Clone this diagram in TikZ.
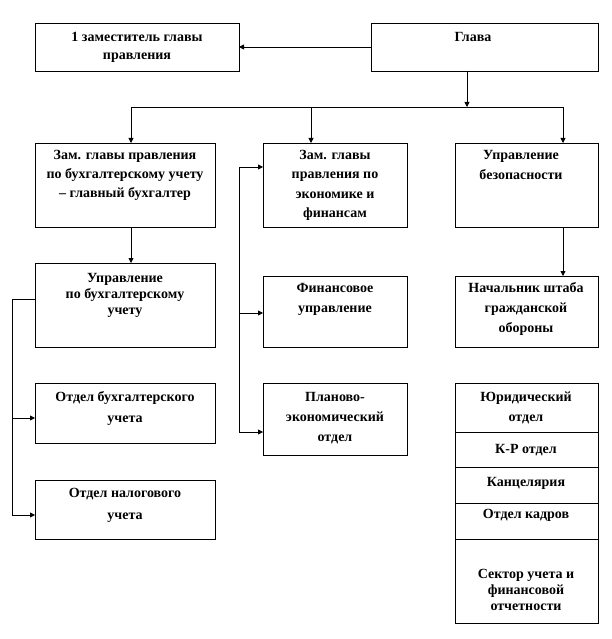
\documentclass[tikz,border=0pt]{standalone}
\usepackage{fontspec}
\setmainfont{Liberation Serif}
\usetikzlibrary{arrows.meta}
\tikzset{
  bx/.style={draw,line width=0.8pt,anchor=north west,inner sep=0pt,outer sep=0pt},
  lbl/.style={anchor=north,inner sep=0pt,align=center},
  ln/.style={line width=0.8pt},
  arr/.style={-{Triangle[length=5pt,width=5pt]}}
}
\newcommand\bx[5]{\node[bx,minimum width=#4pt,minimum height=#5pt] (#1) at (#2,#3) {};}
\newcommand\lb[5]{\node[lbl,font={\fontsize{14}{#4}\selectfont\bfseries}] (#1) at (#2,#3) {\rule{0pt}{13pt}#5};}
\begin{document}
\begin{tikzpicture}[x=1pt,y=-1pt]
\useasboundingbox (0,0) rectangle (612,639);
% boxes
\bx{zam1}{35}{23}{204}{48}
\bx{glava}{371}{23}{227}{48}
\bx{zamb}{35}{143}{180}{84}
\bx{zame}{263}{143}{144}{84}
\bx{uprb}{455}{143}{143}{84}
\bx{upbu}{35}{263}{180}{84}
\bx{fin}{263}{276}{144}{71}
\bx{nach}{455}{276}{143}{71}
\bx{otbu}{35}{383}{180}{60}
\bx{plan}{263}{383}{144}{72}
\bx{jur}{455}{383}{143}{49}
\bx{kr}{455}{432}{143}{35}
\bx{kanc}{455}{467}{143}{36}
\bx{kadr}{455}{503}{143}{36}
\bx{sekt}{455}{539}{143}{84}
\bx{otna}{35}{480}{180}{59}
% labels
\lb{t-zam1}{137}{28}{18}{1 заместитель главы\\правления}
\lb{t-glava}{473}{28}{18}{Глава}
\lb{t-zamb}{125}{146}{19}{Зам. главы правления\\по бухгалтерскому учету\\– главный бухгалтер}
\lb{t-zame}{335}{146}{19.5}{Зам. главы\\правления по\\экономике и\\финансам}
\lb{t-uprb}{521}{146}{20}{Управление\\безопасности}
\lb{t-upbu}{125}{269}{16}{Управление\\по бухгалтерскому\\учету}
\lb{t-fin}{335}{279}{20}{Финансовое\\управление}
\lb{t-nach}{526}{279}{20}{Начальник штаба\\гражданской\\обороны}
\lb{t-otbu}{125}{388}{21}{Отдел бухгалтерского\\учета}
\lb{t-plan}{335}{388}{20}{Планово-\\экономический\\отдел}
\lb{t-jur}{526}{388}{20}{Юридический\\отдел}
\lb{t-kr}{526}{440}{20}{К-Р отдел}
\lb{t-kanc}{526}{473}{20}{Канцелярия}
\lb{t-kadr}{526}{505}{20}{Отдел кадров}
\lb{t-sekt}{526}{565}{16}{Сектор учета и\\финансовой\\отчетности}
\lb{t-otna}{125}{484}{22}{Отдел налогового\\учета}
% coordinates
\coordinate (bus) at (467,107);
\coordinate (busL) at (131,107);
\coordinate (busM) at (311,107);
\coordinate (busR) at (563,107);
\coordinate (mT) at (239,167);
\coordinate (mF) at (239,313);
\coordinate (mB) at (239,432);
\coordinate (lT) at (12,299);
\coordinate (lA) at (12,418);
\coordinate (lB) at (12,515);
% connectors
\draw[ln,arr] (glava.west) -- (zam1.east);
\draw[ln,arr] (glava.south -| bus) -- (bus);
\draw[ln] (busL) -- (busR);
\draw[ln,arr] (busL) -- (busL |- zamb.north);
\draw[ln,arr] (busM) -- (busM |- zame.north);
\draw[ln,arr] (busR) -- (busR |- uprb.north);
\draw[ln,arr] (zamb.south -| busL) -- (upbu.north -| busL);
\draw[ln,arr] (uprb.south -| busR) -- (nach.north -| busR);
\draw[ln] (mT) -- (mB);
\draw[ln,arr] (mT) -- (zame.west |- mT);
\draw[ln,arr] (mF) -- (fin.west |- mF);
\draw[ln,arr] (mB) -- (plan.west |- mB);
\draw[ln] (upbu.west |- lT) -- (lT) -- (lB);
\draw[ln,arr] (lA) -- (otbu.west |- lA);
\draw[ln,arr] (lB) -- (otna.west |- lB);
\end{tikzpicture}
\end{document}
